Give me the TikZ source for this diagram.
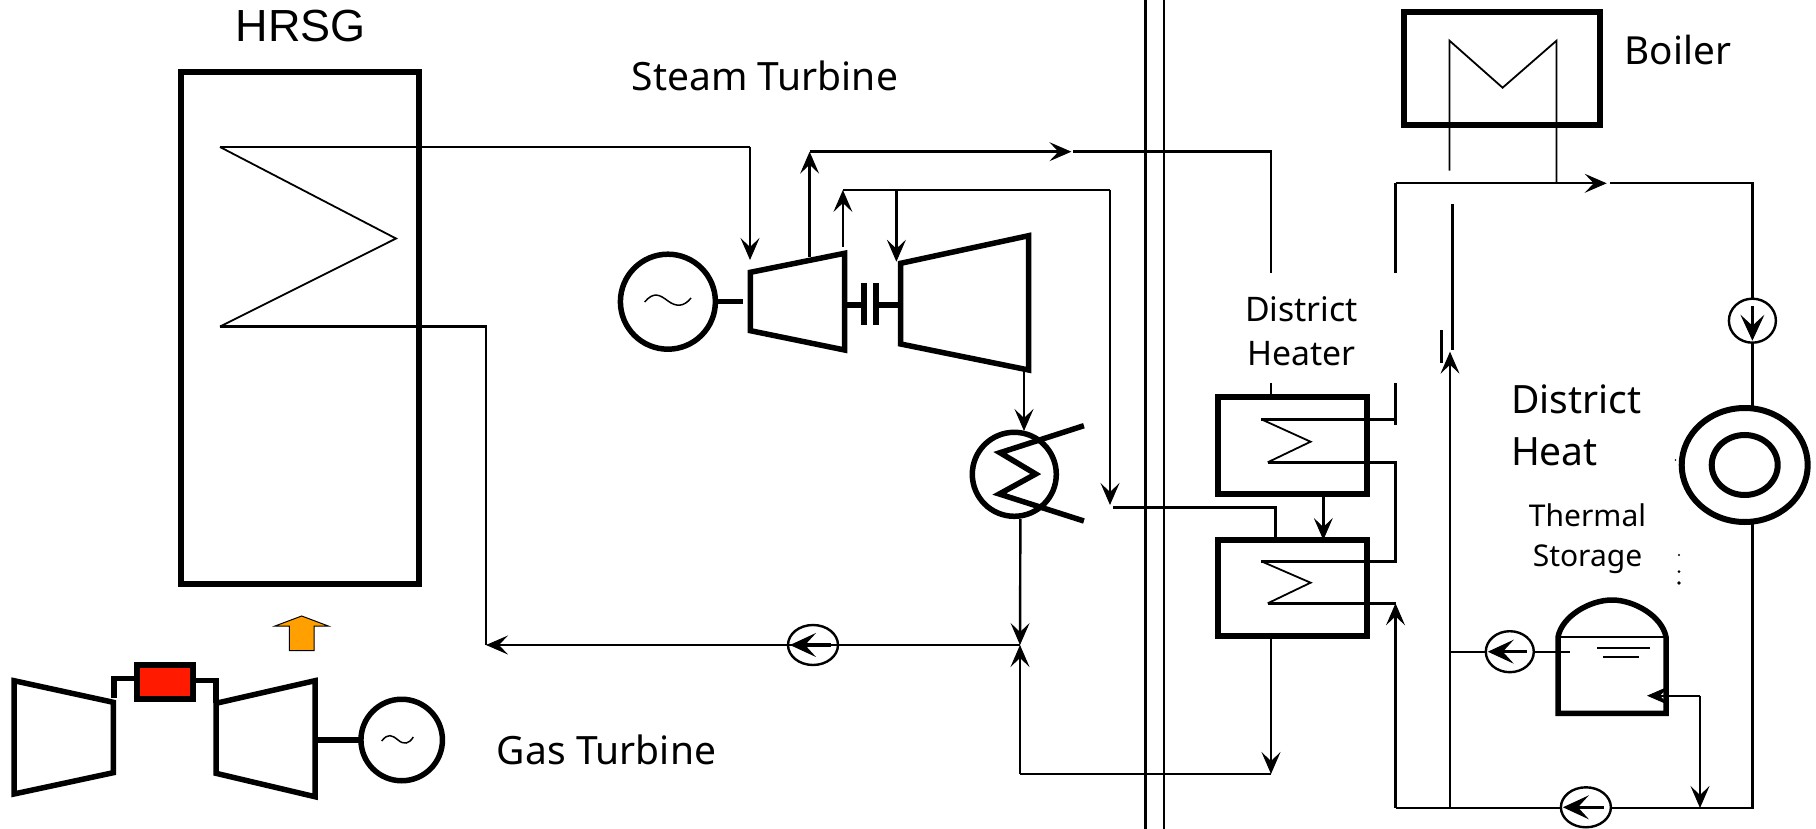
\documentclass[tikz,border=0pt]{standalone}
\usepackage{fontspec}
\setmainfont{Noto Sans}
\newfontfamily\helvlike{Liberation Sans}
\usetikzlibrary{arrows.meta,shapes.geometric}
\definecolor{burner}{HTML}{FF1A00}
\definecolor{flame}{HTML}{FFA000}
\tikzset{
 pipe/.style={line width=2.4pt,draw=black},
 flow/.style={pipe,-{Stealth[length=22pt,width=19pt,inset=9pt,line width=1pt]}},
 pumpflow/.style={line width=3.4pt,draw=black,shorten <=7pt,shorten >=2pt,-{Stealth[length=26pt,width=24pt,inset=11pt,line width=1pt]}},
 thin coil/.style={line width=1.8pt,draw=black,line join=miter},
 thick/.style={line width=5.5pt,draw=black,line join=miter},
 box/.style={rectangle,draw=black,line width=6pt,inner sep=0pt,outer sep=0pt},
 pump/.style={ellipse,draw=black,line width=2.4pt,inner sep=0pt,outer sep=0pt},
 ring/.style={ellipse,draw=black,line width=5.5pt,inner sep=0pt,outer sep=0pt},
 lab/.style={inner sep=0pt,outer sep=0pt,align=center,text=black},
}
\begin{document}
\begin{tikzpicture}[x=1pt,y=-1pt]
\useasboundingbox (0,0) rectangle (1816,829);
\fill[white] (0,0) rectangle (1816,829);

% equipment
\node[box,minimum width=238pt,minimum height=512pt] (hrsg) at (300,328) {};
\node[box,minimum width=196pt,minimum height=113.5pt] (boiler) at (1501.5,68.5) {};
\node[box,minimum width=148.5pt,minimum height=97pt] (dh1) at (1292.3,445.5) {};
\node[box,minimum width=148.5pt,minimum height=96pt] (dh2) at (1292.3,588) {};
\node[ring,minimum width=95pt,minimum height=95pt] (stgen) at (667.9,301.7) {};
\node[ring,minimum width=81.5pt,minimum height=81.5pt] (gtgen) at (401.7,740) {};
\node[ring,minimum width=84pt,minimum height=84pt] (cond) at (1014.3,474.3) {};
\node[ring,line width=6pt,minimum width=126pt,minimum height=114pt] (hx) at (1744.7,465) {};
\node[ring,line width=6pt,minimum width=66pt,minimum height=60pt] (hxin) at (1744.7,465) {};
\node[pump,minimum width=47pt,minimum height=44pt] (p1) at (1752.4,320.7) {};
\node[pump,minimum width=50pt,minimum height=40pt] (p2) at (1585.9,807.3) {};
\node[pump,minimum width=48pt,minimum height=41pt] (p3) at (1509.8,651.7) {};
\node[pump,minimum width=50pt,minimum height=40pt] (p4) at (813,645) {};

% steam turbine
\draw[thick] (750.4,272.3) coordinate (hpTL) -- (844.6,253.3) coordinate (hpTR) -- (844.6,350) -- (750.4,330.7) -- cycle;
\draw[thick] (900.7,263.3) coordinate (lpTL) -- (1028.6,235.7) -- (1028.6,370) coordinate (lpBR) -- (900.7,344) -- cycle;
\coordinate (hpW) at (742.9,301.7);
\draw[thick] (stgen.east) -- (hpW);
\draw[thick] (846.4,305) coordinate (cA) -- (864,305) coordinate (cB);
\draw[thick] (876,305) coordinate (cC) -- (898,305) coordinate (cD);
\draw[line width=6pt] (cB) ++(0,-22) -- ++(0,42);
\draw[line width=6pt] (cC) ++(0,-22) -- ++(0,42);

% condenser coil
\draw[thick] (1083.9,425.7) coordinate (z0) -- (1000,452.7) coordinate (z1) -- (1035.7,474) coordinate (z2) -- (999.3,494) coordinate (z3) -- (1083.9,521) coordinate (z4);

% gas turbine
\draw[thick] (14,680.7) -- (113.3,702.3) coordinate (cpR) -- (113.3,772.7) -- (14,794) -- cycle;
\draw[thick] (216,703.3) coordinate (gtL) -- (315,680.7) -- (315,796.7) -- (216,773.3) -- cycle;
\node[box,fill=burner,minimum width=56pt,minimum height=34.5pt] (comb) at (165.3,682) {};
\coordinate (cbL) at (114,678.3);
\coordinate (cbR) at (216,680.7);
\draw[thick] (cpR) ++(0.7,-4) -- (cbL) -- (comb.west |- cbL);
\draw[thick] (comb.east |- cbR) -- (cbR) -- (gtL);
\coordinate (gtS) at (316.7,740);
\draw[thick] (gtS) -- (gtgen.west);
\draw[line width=1pt,fill=flame] (301.7,616) -- (328.3,626) -- (314,626) -- (314,650.7) -- (289.3,650.7) -- (289.3,626) -- (275,626) -- cycle;

% tildes
\draw[line width=1.5pt] (644.6,302) .. controls (654,291) and (660,295) .. (668,301) .. controls (676,307) and (684,307) .. (691,298);
\draw[line width=1.5pt] (381.7,741) .. controls (388,733) and (392,735) .. (398,740) .. controls (404,745) and (409,744) .. (413.3,737);

% HRSG coil
\coordinate (h0) at (220,147);
\coordinate (h1) at (396,238.5);
\coordinate (h2) at (220,326.6);
\draw[thin coil] (h0) -- (h1) -- (h2);
\coordinate (hA) at (750,147);
\coordinate (hB) at (750,260);
\draw[pipe] (h0) -- (hA);
\draw[flow] (hA) -- (hB);
\coordinate (hC) at (486,326.6);
\coordinate (hD) at (486,645);
\draw[pipe] (h2) -- (hC) -- (hD);

% return line to HRSG
\coordinate (jn) at (1020,645);
\draw[flow] (jn) -- (hD);
\coordinate (cnB) at (1020.4,519);
\draw[flow] (cnB) -- (jn);
\coordinate (lpO) at (1024,370);
\coordinate (cnT) at (1024,431);
\draw[flow] (lpO) -- (cnT);
\coordinate (rtB) at (1020,774);
\draw[flow] (rtB) -- (jn);
\coordinate (dhB) at (1271,636);
\coordinate (dhE) at (1271,774);
\draw[pipe] (rtB) -- (dhE);
\draw[flow] (dhB) -- (dhE);

% extraction lines
\coordinate (x1a) at (809.6,256.7);
\coordinate (x1b) at (809.6,151.7);
\coordinate (x1c) at (1071.4,151.7);
\coordinate (x1d) at (1073,151.7);
\coordinate (x1e) at (1271,151.7);
\coordinate (x1f) at (1271,273);
\coordinate (x1g) at (1271,383.3);
\coordinate (x1h) at (1271,397);
\draw[flow] (x1a) -- (x1b);
\draw[flow] (x1b) -- (x1c);
\draw[pipe] (x1d) -- (x1e) -- (x1f);
\draw[pipe] (x1g) -- (x1h);

\coordinate (x2a) at (842.9,246.7);
\coordinate (x2b) at (842.9,190);
\coordinate (x2c) at (896.4,190);
\coordinate (x2d) at (896.4,261.7);
\coordinate (x2e) at (1110,190);
\coordinate (x2f) at (1110,505);
\draw[flow] (x2a) -- (x2b);
\draw[flow] (x2c) -- (x2d);
\draw[pipe] (x2b) -- (x2e);
\draw[flow] (x2e) -- (x2f);
\coordinate (x3a) at (1113,507.5);
\coordinate (x3b) at (1275.3,507.5);
\coordinate (x3c) at (1275.3,540);
\draw[pipe] (x3a) -- (x3b) -- (x3c);

\coordinate (dd1) at (1323.3,494);
\coordinate (dd2) at (1323.3,540);
\draw[flow] (dd1) -- (dd2);

% heater coils
\coordinate (c1a) at (1261.3,419.3);
\coordinate (c1b) at (1310.6,441.7);
\coordinate (c1c) at (1267.7,462.3);
\coordinate (c2a) at (1261.3,561.3);
\coordinate (c2b) at (1310.6,582.7);
\coordinate (c2c) at (1267.7,603.3);
\draw[thin coil] (c1a) -- (c1b) -- (c1c);
\draw[thin coil] (c2a) -- (c2b) -- (c2c);
\coordinate (r1) at (1395.5,183.3);
\coordinate (r2) at (1395.5,273);
\coordinate (r3) at (1395.5,383.3);
\coordinate (r4) at (1395.5,419.3);
\coordinate (r4b) at (1395.5,425.3);
\coordinate (r5) at (1395.5,462.3);
\coordinate (r6) at (1395.5,561.3);
\coordinate (r7) at (1395.5,603.3);
\coordinate (r8) at (1395.5,808);
\draw[pipe] (c1a) -- (r4) -- (r3);
\draw[pipe] (r4) -- (r4b);
\draw[pipe] (c1c) -- (r5) -- (r6) -- (c2a);
\draw[pipe] (c2c) -- (r7);
\draw[pipe] (r2) -- (r1);

% boiler coil and district loop
\coordinate (b0) at (1449.5,40.7);
\coordinate (b1) at (1502.6,87.7);
\coordinate (b2) at (1556.5,40.7);
\coordinate (b3) at (1449.5,170.7);
\coordinate (b4) at (1556.5,183.3);
\draw[thin coil] (b3) -- (b0) -- (b1) -- (b2) -- (b4);
\coordinate (t1) at (1606.7,183.3);
\coordinate (t2) at (1610,183.3);
\coordinate (t3) at (1752.4,183.3);
\draw[flow] (r1) -- (t1);
\draw[pipe] (t2) -- (t3) -- (p1.north);
\draw[pipe] (p1.south) -- (hx.north -| p1);
\draw[pumpflow] (p1.north) -- (p1.south);
\coordinate (s1) at (1752.4,523);
\coordinate (s2) at (1752.4,808);
\coordinate (s3) at (1700,808);
\draw[pipe] (s1) -- (s2) -- (p2.east |- s2);
\draw[pipe] (p2.west |- r8) -- (r8);
\draw[flow] (r8) -- (r7);
\draw[pumpflow] (p2.east) -- (p2.west);
\coordinate (v0) at (1450,807);
\coordinate (v1) at (1450,351.7);
\coordinate (v2) at (1452.5,204);
\coordinate (v3) at (1452.5,350);
\coordinate (v4) at (1441.4,330);
\coordinate (v5) at (1441.4,363);
\draw[flow] (v0) -- (v1);
\draw[pipe] (v2) -- (v3);
\draw[pipe] (v4) -- (v5);

% storage tank
\coordinate (tkTL) at (1558,637);
\coordinate (tkTR) at (1666,637);
\coordinate (tkBL) at (1558,713.3);
\coordinate (tkBR) at (1666,713.3);
\coordinate (tkT) at (1612,600);
\draw[thick] (tkBL) -- (tkTL) .. controls (1562,616) and (1590,600) .. (tkT) .. controls (1634,600) and (1662,616) .. (tkTR) -- (tkBR) -- cycle;
\draw[thin coil] (tkTL) -- (tkTR);
\draw[line width=2.2pt] (1597.3,648.3) coordinate (wa) -- (1650,648.3) coordinate (wb);
\draw[line width=2.2pt] (1602.8,657.3) coordinate (wc) -- (1638.5,657.3) coordinate (wd);
\coordinate (q0) at (1450,653);
\coordinate (q1) at (1569.7,651.7);
\draw[pipe] (q0 |- p3.west) -- (p3.west);
\draw[pipe] (p3.east |- q1) -- (q1);
\draw[pumpflow] (p3.east) -- (p3.west);
\coordinate (k0) at (1700,695.7);
\coordinate (k1) at (1647,695.7);
\draw[flow] (k0) -- (k1);
\draw[flow] (k0) -- (s3);
\draw[pumpflow] (p4.east) -- (p4.west);

% dots
\fill (1679,555) circle (1.2pt);
\fill (1679,571.7) circle (1.5pt);
\fill (1679,583) circle (1.8pt);
\fill (1675.5,460) circle (0.8pt);

% double wall
\coordinate (w1) at (1145.3,0);
\coordinate (w2) at (1145.3,829);
\coordinate (w3) at (1163.7,0);
\coordinate (w4) at (1163.7,829);
\draw[pipe] (w1) -- (w2);
\draw[pipe] (w3) -- (w4);

% labels
\node[lab,font=\helvlike\fontsize{45}{45}\selectfont] (tHRSG) at (301,26) {HRSG};
\node[lab,font=\fontsize{39}{39}\selectfont] (tST) at (765,76) {Steam Turbine};
\node[lab,font=\fontsize{39}{39}\selectfont] (tGT) at (606.5,750) {Gas Turbine};
\node[lab,font=\fontsize{38.7}{38.7}\selectfont] (tBo) at (1678,50) {Boiler};
\node[lab,font=\fontsize{33.8}{44}\selectfont] (tDH) at (1301.6,331) {District\\Heater};
\node[lab,anchor=west,align=left,font=\fontsize{39}{52}\selectfont] (tDi) at (1511,425.5) {District\\Heat};
\node[lab,font=\fontsize{30}{40}\selectfont] (tTS) at (1587.5,539) {Thermal\\Storage};
\end{tikzpicture}
\end{document}
